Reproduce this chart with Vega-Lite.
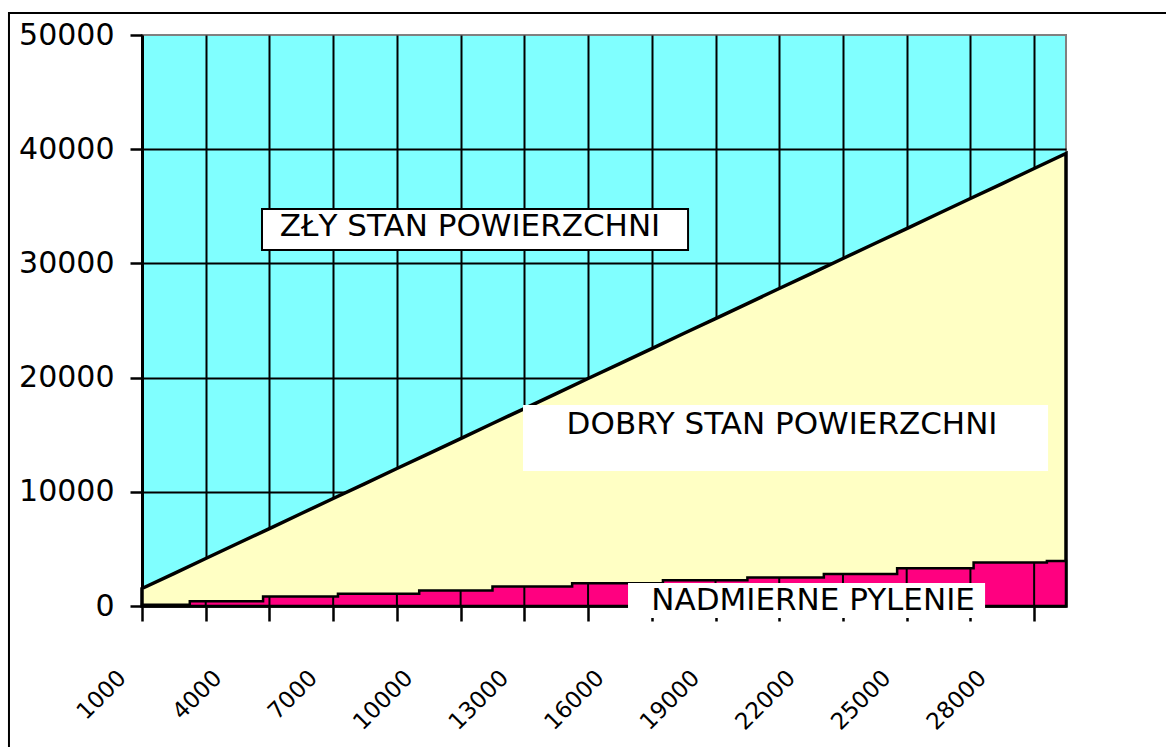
{
  "$schema": "https://vega.github.io/schema/vega-lite/v6.json",
  "width": 924,
  "height": 571,
  "autosize": {"type": "none"},
  "padding": {"left": 142, "top": 35, "right": 100, "bottom": 141},
  "background": "white",
  "config": {
    "view": {"fill": "#80FFFF", "stroke": "#808080", "strokeWidth": 2},
    "font": "DejaVu Sans"
  },
  "datasets": {
    "surface": [
      {"x": 1000, "y": 1530}, {"x": 2000, "y": 2840}, {"x": 3000, "y": 4160},
      {"x": 4000, "y": 5470}, {"x": 5000, "y": 6780}, {"x": 6000, "y": 8100},
      {"x": 7000, "y": 9410}, {"x": 8000, "y": 10720}, {"x": 9000, "y": 12040},
      {"x": 10000, "y": 13350}, {"x": 11000, "y": 14660}, {"x": 12000, "y": 15980},
      {"x": 13000, "y": 17290}, {"x": 14000, "y": 18600}, {"x": 15000, "y": 19920},
      {"x": 16000, "y": 21230}, {"x": 17000, "y": 22540}, {"x": 18000, "y": 23860},
      {"x": 19000, "y": 25170}, {"x": 20000, "y": 26480}, {"x": 21000, "y": 27800},
      {"x": 22000, "y": 29110}, {"x": 23000, "y": 30430}, {"x": 24000, "y": 31740},
      {"x": 25000, "y": 33050}, {"x": 26000, "y": 34370}, {"x": 27000, "y": 35680},
      {"x": 28000, "y": 36990}, {"x": 29000, "y": 38310}, {"x": 30000, "y": 39620}
    ],
    "dust": [
      {"x": 1000, "y": 100}, {"x": 2000, "y": 100}, {"x": 2500, "y": 420},
      {"x": 3000, "y": 420}, {"x": 4000, "y": 420}, {"x": 4800, "y": 830},
      {"x": 5000, "y": 830}, {"x": 6000, "y": 830}, {"x": 7000, "y": 830},
      {"x": 7150, "y": 1070}, {"x": 8000, "y": 1070}, {"x": 9000, "y": 1070},
      {"x": 9700, "y": 1360}, {"x": 10000, "y": 1360}, {"x": 11000, "y": 1360},
      {"x": 12000, "y": 1710}, {"x": 13000, "y": 1710}, {"x": 14000, "y": 1710},
      {"x": 14500, "y": 1990}, {"x": 15000, "y": 1990}, {"x": 16000, "y": 1990},
      {"x": 17000, "y": 1990}, {"x": 17350, "y": 2250}, {"x": 18000, "y": 2250},
      {"x": 19000, "y": 2250}, {"x": 20000, "y": 2500}, {"x": 21000, "y": 2500},
      {"x": 22000, "y": 2500}, {"x": 22400, "y": 2800}, {"x": 23000, "y": 2800},
      {"x": 24000, "y": 2800}, {"x": 24700, "y": 3300}, {"x": 25000, "y": 3300},
      {"x": 26000, "y": 3300}, {"x": 27000, "y": 3300}, {"x": 27100, "y": 3800},
      {"x": 28000, "y": 3800}, {"x": 29000, "y": 3800}, {"x": 29400, "y": 3950},
      {"x": 30000, "y": 3950}
    ],
    "boxes": [
      {"name": "zly", "x": 4766, "x2": 18138, "y": 34764, "y2": 31174},
      {"name": "dobry", "x": 12958, "x2": 29437, "y": 17601, "y2": 11821},
      {"name": "pylenie", "x": 16254, "x2": 27460, "y": 2014, "y2": -1050}
    ],
    "labels": [
      {"text": "ZŁY STAN POWIERZCHNI", "x": 11295, "y": 33200},
      {"text": "DOBRY STAN POWIERZCHNI", "x": 21088, "y": 15806},
      {"text": "NADMIERNE PYLENIE", "x": 22061, "y": 438}
    ],
    "frame": [
      {"x": -3175, "x2": 40000, "y": 51926, "y2": -20000}
    ]
  },
  "encoding": {
    "x": {
      "field": "x",
      "type": "quantitative",
      "scale": {"domain": [1000, 30000], "nice": false, "zero": false},
      "axis": {
        "values": [1000, 3000, 4000, 5000, 7000, 9000, 10000, 11000, 13000, 15000, 16000, 17000, 19000, 21000, 22000, 23000, 25000, 27000, 28000, 29000],
        "format": "d",
        "labelExpr": "(datum.value - 1000) % 3000 === 0 ? datum.label : ''",
        "labelAngle": -45,
        "labelAlign": "right",
        "labelBaseline": "middle",
        "labelFont": "DejaVu Sans",
        "labelFontSize": 23,
        "labelColor": "black",
        "labelPadding": 53,
        "labelOffset": -20,
        "labelOverlap": false,
        "labelFlush": false,
        "tickSize": 15,
        "tickColor": "black",
        "tickWidth": 2.5,
        "tickOpacity": {"condition": {"test": "datum.value % 2000 === 1000", "value": 1}, "value": 0},
        "grid": true,
        "gridColor": "black",
        "gridWidth": 2,
        "gridOpacity": {"condition": {"test": "datum.value % 2000 === 1000", "value": 1}, "value": 0},
        "domainColor": "#222222",
        "domainWidth": 2.5,
        "title": null,
        "zindex": 0
      }
    },
    "y": {
      "field": "y",
      "type": "quantitative",
      "scale": {"domain": [0, 50000], "nice": false},
      "axis": {
        "values": [0, 10000, 20000, 30000, 40000, 50000],
        "format": "d",
        "labelFont": "DejaVu Sans",
        "labelFontSize": 30,
        "labelColor": "black",
        "labelPadding": 16,
        "labelFlush": false,
        "labelOverlap": false,
        "tickSize": 12,
        "tickColor": "black",
        "tickWidth": 2.5,
        "grid": true,
        "gridColor": "black",
        "gridWidth": 2,
        "gridOpacity": {"condition": {"test": "datum.value > 0 && datum.value < 50000", "value": 1}, "value": 0},
        "domainColor": "black",
        "domainWidth": 3,
        "title": null,
        "zindex": 0
      }
    }
  },
  "layer": [
    {
      "data": {"name": "surface"},
      "mark": {"type": "area", "fill": "#FFFFC4", "stroke": "black", "strokeWidth": 3.5},
      "encoding": {}
    },
    {
      "data": {"name": "dust"},
      "mark": {"type": "area", "interpolate": "step-after", "fill": "#FF0080", "stroke": "black", "strokeWidth": 2.5},
      "encoding": {}
    },
    {
      "data": {"name": "dust"},
      "transform": [{"filter": "datum.x % 2000 === 1000"}],
      "mark": {"type": "rule", "color": "black", "strokeWidth": 2},
      "encoding": {"y2": {"datum": 0}}
    },
    {
      "data": {"name": "boxes"},
      "mark": {"type": "rect", "fill": "white"},
      "encoding": {
        "x2": {"field": "x2"},
        "y2": {"field": "y2"},
        "stroke": {
          "condition": {"test": "datum.name === 'zly'", "value": "black"},
          "value": null
        },
        "strokeWidth": {"value": 2}
      }
    },
    {
      "data": {"name": "labels"},
      "mark": {"type": "text", "font": "DejaVu Sans", "fontSize": 31, "color": "black", "align": "center", "baseline": "middle"},
      "encoding": {"text": {"field": "text"}}
    },
    {
      "data": {"name": "frame"},
      "mark": {"type": "rect", "fill": null, "stroke": "black", "strokeWidth": 2},
      "encoding": {"x2": {"field": "x2"}, "y2": {"field": "y2"}}
    }
  ]
}
